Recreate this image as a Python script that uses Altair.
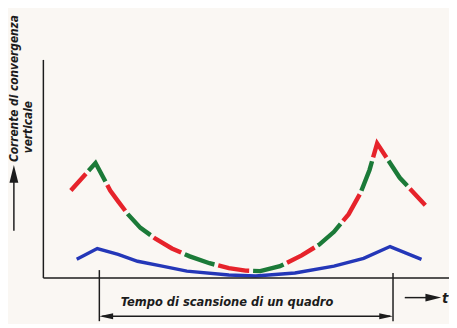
import altair as alt
import pandas as pd

# Time: 0 = start of frame scan, 1 = end of frame scan; current in arbitrary units
conv_t = [-0.097, -0.013, 0.037, 0.064, 0.097, 0.140, 0.191, 0.247, 0.308, 0.375, 0.441,
          0.498, 0.548, 0.615, 0.689, 0.749, 0.799, 0.849, 0.890, 0.920, 0.946, 1.023, 1.110]
conv_c = [0.89, 1.17, 0.89, 0.78, 0.65, 0.51, 0.40, 0.30, 0.22, 0.15, 0.10,
          0.075, 0.07, 0.12, 0.23, 0.34, 0.47, 0.65, 0.87, 1.10, 1.37, 1.02, 0.74]
blue_t = [-0.077, -0.007, 0.064, 0.130, 0.214, 0.298, 0.441, 0.532, 0.666, 0.799, 0.900, 0.990, 1.097]
blue_c = [0.19, 0.30, 0.24, 0.17, 0.12, 0.07, 0.03, 0.02, 0.05, 0.12, 0.20, 0.32, 0.19]

y_label_1 = "Corrente di convergenza"
y_label_2 = "verticale"
x_span_label = "Tempo di scansione di un quadro"
x_label = "t"

W, H = 449, 316
XS = alt.Scale(domain=[-0.31104, 1.19064], nice=False, zero=False)
YS = alt.Scale(domain=[-0.44, 2.72], nice=False, zero=False)
FONT = "Liberation Sans Narrow, DejaVu Sans Condensed, Liberation Sans"
INK = "#1c1c1c"


def X(f):
    return alt.X(f"{f}:Q", scale=XS, axis=None)


def Y(f):
    return alt.Y(f"{f}:Q", scale=YS, axis=None)


conv = pd.DataFrame({"t": conv_t, "c": conv_c, "i": range(len(conv_t))})
blue = pd.DataFrame({"t": blue_t, "c": blue_c, "i": range(len(blue_t))})

D, G, OFF = 32, 4, 9
red_line = alt.Chart(conv).mark_line(
    color="#e6232b", strokeWidth=4.5, strokeCap="butt", strokeDash=[D, D + 2 * G], strokeDashOffset=OFF
).encode(x=X("t"), y=Y("c"), order="i:Q")
green_line = alt.Chart(conv).mark_line(
    color="#1b7a38", strokeWidth=4.5, strokeCap="butt", strokeDash=[D, D + 2 * G], strokeDashOffset=OFF + D + G
).encode(x=X("t"), y=Y("c"), order="i:Q")
blue_line = alt.Chart(blue).mark_line(color="#2437b8", strokeWidth=3.5).encode(
    x=X("t"), y=Y("c"), order="i:Q")

rules_df = pd.DataFrame({
    "t":  [-0.1906, -0.1906, 0.0, 1.0, 0.01, 1.040, -0.291],
    "t2": [-0.1906, 1.2, 0.0, 1.0, 0.99, 1.13, -0.291],
    "c":  [2.22, 0.0, 0.08, 0.05, -0.39, -0.20, 0.48],
    "c2": [0.0, 0.0, -0.44, -0.44, -0.39, -0.20, 1.02],
})
rules = alt.Chart(rules_df).mark_rule(color=INK, strokeWidth=1.5).encode(
    x=X("t"), x2="t2:Q", y=Y("c"), y2="c2:Q")

heads_df = pd.DataFrame({
    "t": [0.0, 1.0, 1.164, -0.291],
    "c": [-0.39, -0.39, -0.20, 1.15],
    "shape": ["M0,0 L2,-0.45 L2,0.45 Z", "M0,0 L-2,-0.45 L-2,0.45 Z",
              "M0,0 L-2,-0.5 L-2,0.5 Z", "M0,0 L-0.5,2 L0.5,2 Z"],
    "size": [196, 196, 256, 324],
})
heads = alt.Chart(heads_df).mark_point(filled=True, color=INK, opacity=1, strokeWidth=0).encode(
    x=X("t"), y=Y("c"),
    shape=alt.Shape("shape:N", scale=None),
    size=alt.Size("size:Q", scale=None))

texts_df = pd.DataFrame({
    "t": [0.435, 1.167],
    "c": [-0.25, -0.20],
    "txt": [x_span_label, x_label],
})
t1 = alt.Chart(texts_df.iloc[[0]]).mark_text(
    font=FONT, fontSize=13, fontStyle="italic", fontWeight="bold", color=INK, baseline="middle", align="center"
).encode(x=X("t"), y=Y("c"), text="txt:N")
t2 = alt.Chart(texts_df.iloc[[1]]).mark_text(
    font=FONT, fontSize=15, fontStyle="italic", fontWeight="bold", color=INK, baseline="middle", align="left"
).encode(x=X("t"), y=Y("c"), text="txt:N")

ylab_df = pd.DataFrame({"t": [-0.291, -0.241], "c": [1.18, 1.27], "txt": [y_label_1, y_label_2]})
ylab = alt.Chart(ylab_df).mark_text(
    font=FONT, fontSize=12, fontStyle="italic", fontWeight="bold", color=INK,
    angle=270, align="left", baseline="middle"
).encode(x=X("t"), y=Y("c"), text="txt:N")

chart = alt.layer(blue_line, red_line, green_line, rules, heads, t1, t2, ylab).properties(
    width=W, height=H, padding=0, autosize=alt.AutoSizeParams(type="none"),
    background="#faf7f3"
).configure_view(stroke=None)

chart.save("out.html", embed_options={"renderer": "svg", "actions": False})
